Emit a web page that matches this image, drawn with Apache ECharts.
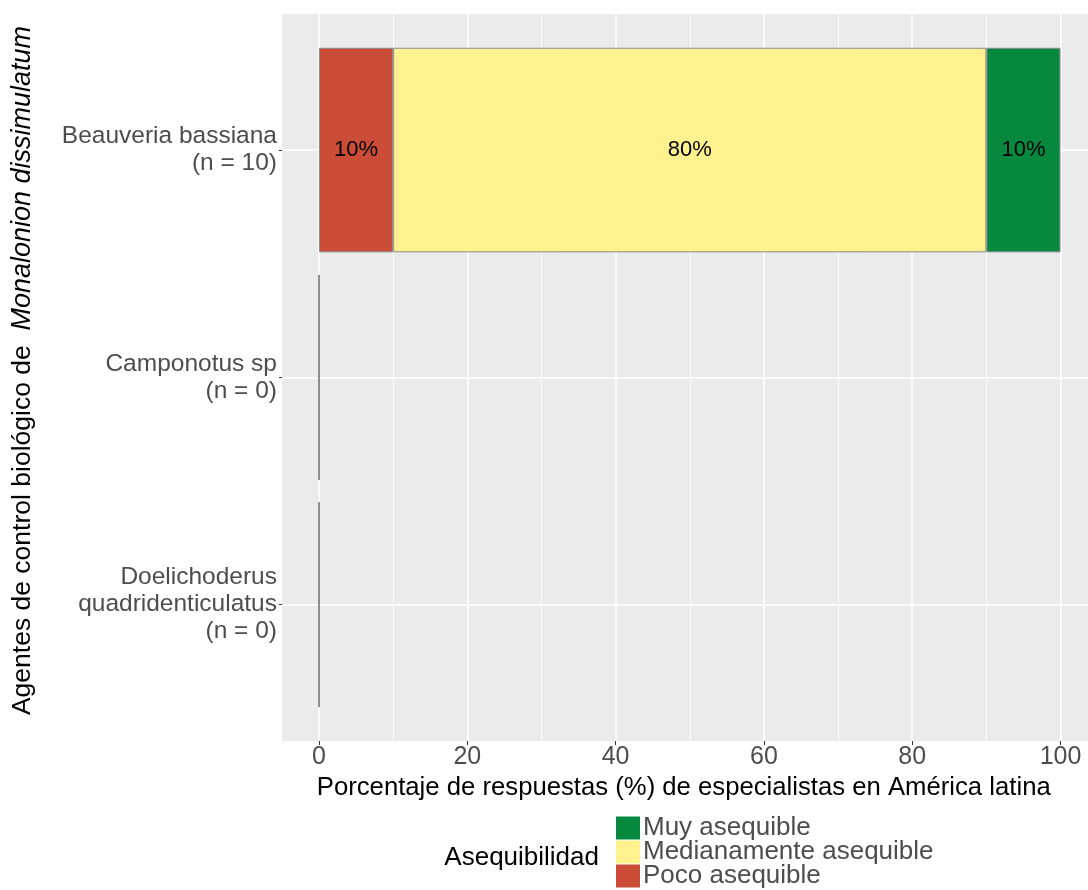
<!DOCTYPE html>
<html>
<head>
<meta charset="utf-8">
<script src="https://cdn.jsdelivr.net/npm/echarts@6/dist/echarts.min.js"></script>
<style>
html,body{margin:0;padding:0;background:#fff;}
#chart{width:1088px;height:890px;}
</style>
</head>
<body>
<div id="chart"></div>
<script>
const categories = ['Beauveria bassiana\n(n = 10)', 'Camponotus sp\n(n = 0)', 'Doelichoderus\nquadridenticulatus\n(n = 0)'];
const pocoAsequible = [10, 0, 0];
const medianamenteAsequible = [80, 0, 0];
const muyAsequible = [10, 0, 0];
const xTicks = [0, 20, 40, 60, 80, 100];
const seriesNames = ['Poco asequible', 'Medianamente asequible', 'Muy asequible'];
const legendOrder = ['Muy asequible', 'Medianamente asequible', 'Poco asequible'];
const colors = {'Poco asequible': '#CC4D37', 'Medianamente asequible': '#FEF28F', 'Muy asequible': '#06883F'};

const FONT = 'Liberation Sans, Arial, sans-serif';
const chart = echarts.init(document.getElementById('chart'), null, {renderer: 'canvas'});

function barSeries(name, data) {
  return {
    name: name, type: 'bar', stack: 'total', xAxisIndex: 3, yAxisIndex: 3,
    data: data, barWidth: '90%',
    itemStyle: {color: colors[name], borderColor: '#8c8c8c', borderWidth: 1},
    label: {show: true, position: 'inside', color: '#000', fontFamily: FONT, fontSize: 22,
      formatter: p => (p.value > 0 ? p.value + '%' : '')},
    emphasis: {disabled: true}
  };
}

const gridBase = {outerBoundsMode: 'none', containLabel: false};

chart.setOption({
  animation: false,
  textStyle: {fontFamily: FONT},
  grid: [
    Object.assign({left: 282, right: 0, top: 14, height: 727, show: true, backgroundColor: '#EBEBEB', borderWidth: 0}, gridBase),
    Object.assign({left: 319, width: 741.5, top: 14, height: 727}, gridBase),
    Object.assign({left: 282, right: 0, top: 36.4, height: 682}, gridBase),
    Object.assign({left: 319, width: 741.5, top: 36.4, height: 682}, gridBase)
  ],
  xAxis: [
    {gridIndex: 0, type: 'value', min: 0, max: 1, show: false},
    {gridIndex: 1, type: 'value', min: 0, max: 100, interval: 20,
      axisLine: {show: false},
      axisTick: {show: true, length: 4, lineStyle: {color: '#333', width: 1}},
      axisLabel: {color: '#4D4D4D', fontSize: 25, margin: 4, fontFamily: FONT,
        customValues: xTicks},
      splitLine: {show: true, lineStyle: {color: '#FFFFFF', width: 1.6}},
      minorTick: {show: false, splitNumber: 2},
      minorSplitLine: {show: true, lineStyle: {color: '#FFFFFF', width: 0.8}},
      name: 'Porcentaje de respuestas (%) de especialistas en América latina',
      nameLocation: 'middle', nameGap: 34,
      nameTextStyle: {color: '#000', fontSize: 25.7, fontFamily: FONT, padding: [0, 12, 0, 0]}
    },
    {gridIndex: 2, type: 'value', min: 0, max: 1, show: false},
    {gridIndex: 3, type: 'value', min: 0, max: 100, show: false}
  ],
  yAxis: [
    {gridIndex: 0, type: 'category', data: categories, inverse: true, show: true,
      axisLine: {show: false}, axisTick: {show: false}, axisLabel: {show: false}, splitLine: {show: false},
      name: '{a|Agentes de control biológico de  }{i|Monalonion dissimulatum}',
      nameLocation: 'middle', nameRotate: 90, nameGap: 246,
      nameTextStyle: {color: '#000', fontSize: 26.5, fontFamily: FONT, padding: [0, 0, 0, 14],
        rich: {a: {color: '#000', fontSize: 26.5, fontFamily: FONT},
               i: {color: '#000', fontSize: 27, fontFamily: FONT, fontStyle: 'italic'}}}
    },
    {gridIndex: 1, type: 'category', data: categories, show: false},
    {gridIndex: 2, type: 'category', data: categories, inverse: true,
      axisLine: {show: false},
      axisTick: {show: true, length: 3, alignWithLabel: true, lineStyle: {color: '#333', width: 1}},
      axisLabel: {color: '#4D4D4D', fontSize: 24.5, lineHeight: 27, margin: 5, align: 'right', fontFamily: FONT},
      splitLine: {show: true, alignWithLabel: true, lineStyle: {color: '#FFFFFF', width: 1.6}}
    },
    {gridIndex: 3, type: 'category', data: categories, inverse: true, show: false}
  ],
  legend: {
    orient: 'vertical', left: 616, top: 815, height: 150, width: 400, padding: 0,
    itemWidth: 24, itemHeight: 23, itemGap: -2, icon: 'rect',
    data: legendOrder,
    itemStyle: {borderWidth: 0},
    textStyle: {color: '#4D4D4D', fontSize: 26, lineHeight: 23, fontFamily: FONT, padding: [0, 0, 0, -2]},
    selectedMode: false
  },
  graphic: [
    {type: 'text', right: 1088 - 599, top: 845,
      style: {text: 'Asequibilidad', fill: '#000', font: '26px ' + FONT}}
  ],
  series: [
    barSeries(seriesNames[0], pocoAsequible),
    barSeries(seriesNames[1], medianamenteAsequible),
    barSeries(seriesNames[2], muyAsequible)
  ]
});
</script>
</body>
</html>
